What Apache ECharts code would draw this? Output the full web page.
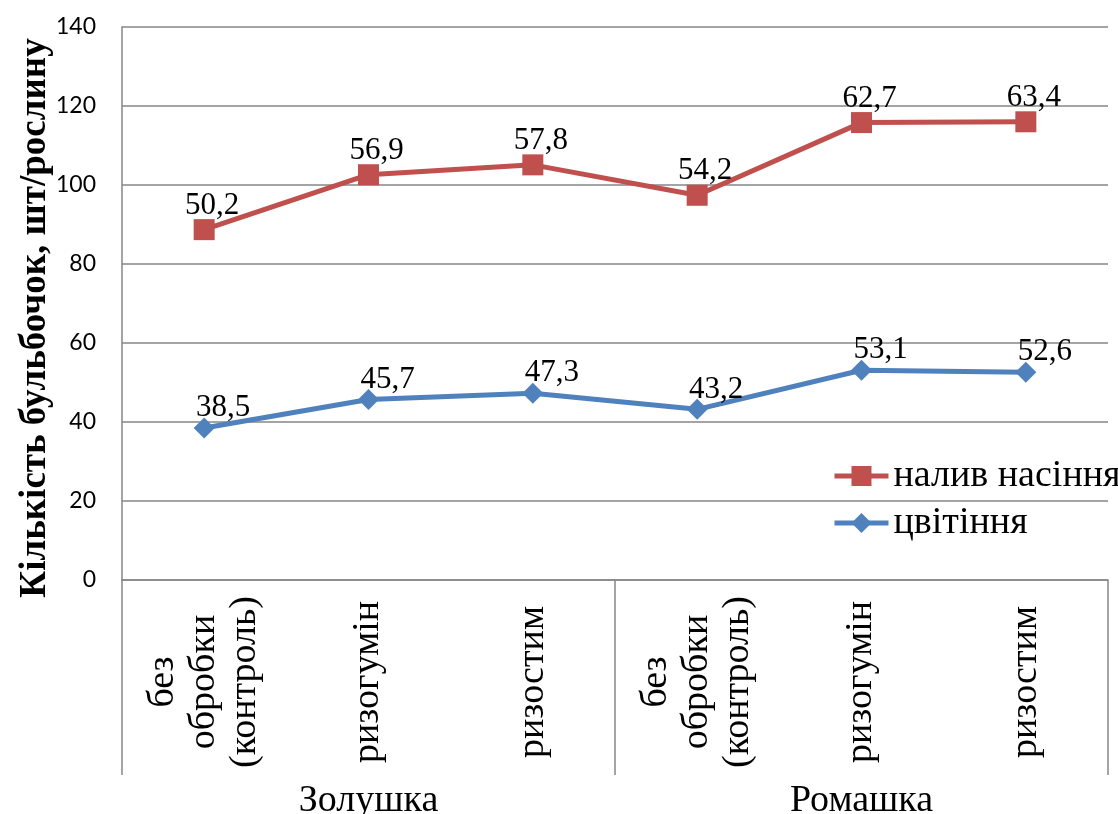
<!DOCTYPE html>
<html>
<head>
<meta charset="utf-8">
<script src="https://cdn.jsdelivr.net/npm/echarts@6/dist/echarts.min.js"></script>
<style>
html,body{margin:0;padding:0;background:#fff;}
#chart{width:1118px;height:814px;}
</style>
</head>
<body>
<div id="chart"></div>
<script>
// Data
const categories = ['без\nобробки\n(контроль)', 'ризогумін', 'ризостим', 'без\nобробки\n(контроль)', 'ризогумін', 'ризостим'];
const groups = ['Золушка', 'Ромашка'];
const flowering = [38.5, 45.7, 47.3, 43.2, 53.1, 52.6];      // цвітіння
const seedFilling = [50.2, 56.9, 57.8, 54.2, 62.7, 63.4];    // налив насіння (stacked on top)
const yTicks = [0, 20, 40, 60, 80, 100, 120, 140];
const yTitle = 'Кількість бульбочок, шт/рослину';
const seriesNames = ['налив насіння', 'цвітіння'];

const serif = 'Liberation Serif';
const gridColor = '#868686';
const fmt = p => p.value.toFixed(1).replace('.', ',');

const chart = echarts.init(document.getElementById('chart'), null, {renderer: 'canvas'});
chart.setOption({
  animation: false,
  backgroundColor: '#fff',
  grid: {left: 122, right: 10, top: 27, bottom: 234, containLabel: false, outerBoundsMode: 'none'},
  legend: {
    orient: 'vertical',
    left: 827,
    top: 451,
    data: seriesNames,
    itemWidth: 54,
    itemHeight: 25,
    itemGap: 7,
    lineStyle: {width: 5},
    textStyle: {fontFamily: serif, fontSize: 38, color: '#000', lineHeight: 40, padding: [0, 0, 0, 0]}
  },
  graphic: [{
    type: 'text',
    x: 35, y: 318,
    rotation: Math.PI / 2,
    style: {
      text: yTitle,
      fontFamily: serif,
      fontWeight: 'bold',
      fontSize: 37,
      fill: '#000',
      align: 'center',
      verticalAlign: 'middle'
    }
  }],
  xAxis: [{
    type: 'category',
    data: categories,
    boundaryGap: true,
    axisLine: {show: true, lineStyle: {color: gridColor, width: 1.5}},
    axisTick: {show: false},
    axisLabel: {
      interval: 0,
      rotate: 90,
      align: 'center',
      margin: 102,
      fontFamily: serif,
      fontSize: 38,
      lineHeight: 41,
      color: '#000'
    }
  }, {
    type: 'category',
    data: groups,
    position: 'bottom',
    boundaryGap: true,
    axisLine: {show: false},
    axisTick: {show: true, length: 195, interval: 0, lineStyle: {color: gridColor, width: 1.5}},
    axisLabel: {interval: 0, margin: 202, fontFamily: serif, fontSize: 38, color: '#000'}
  }],
  yAxis: {
    type: 'value',
    min: yTicks[0],
    max: yTicks[yTicks.length - 1],
    interval: yTicks[1] - yTicks[0],
    axisLine: {show: true, lineStyle: {color: gridColor, width: 1.5}},
    axisTick: {show: false},
    splitLine: {show: true, lineStyle: {color: gridColor, width: 1.5}},
    axisLabel: {margin: 26, fontFamily: 'Lato', fontSize: 23, color: '#000'}
  },
  series: [{
    name: 'цвітіння',
    type: 'line',
    stack: 'total',
    data: flowering,
    symbol: 'diamond',
    symbolSize: 21,
    itemStyle: {color: '#4F81BD'},
    lineStyle: {color: '#4F81BD', width: 5},
    label: {show: true, position: 'top', distance: 0, offset: [19, 6], formatter: fmt,
            fontFamily: serif, fontSize: 31, color: '#000'},
    z: 3
  }, {
    name: 'налив насіння',
    type: 'line',
    stack: 'total',
    data: seedFilling,
    symbol: 'rect',
    symbolSize: 21,
    itemStyle: {color: '#C0504D'},
    lineStyle: {color: '#C0504D', width: 5},
    label: {show: true, position: 'top', distance: 0, offset: [8, 2], formatter: fmt,
            fontFamily: serif, fontSize: 31, color: '#000'},
    z: 3
  }]
});
</script>
</body>
</html>
